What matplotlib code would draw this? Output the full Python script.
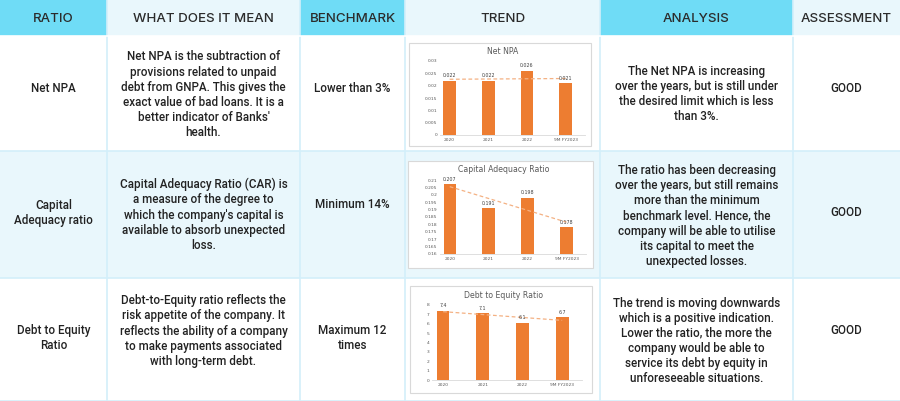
import numpy as np
import matplotlib
matplotlib.use("Agg")
from matplotlib import pyplot as plt
from matplotlib.patches import Rectangle

# table content
headers = ["RATIO", "WHAT DOES IT MEAN", "BENCHMARK", "TREND", "ANALYSIS", "ASSESSMENT"]
ratios = ["Net NPA", "Capital\nAdequacy ratio", "Debt to Equity\nRatio"]
meanings = [
    "Net NPA is the subtraction of\nprovisions related to unpaid\ndebt from GNPA. This gives the\n"
    "exact value of bad loans. It is a\nbetter indicator of Banks'\nhealth.",
    "Capital Adequacy Ratio (CAR) is\na measure of the degree to\nwhich the company's capital is\n"
    "available to absorb unexpected\nloss.",
    "Debt-to-Equity ratio reflects the\nrisk appetite of the company. It\nreflects the ability of a company\n"
    "to make payments associated\nwith long-term debt.",
]
benchmarks = ["Lower than 3%", "Minimum 14%", "Maximum 12\ntimes"]
analyses = [
    "The Net NPA is increasing\nover the years, but is still under\nthe desired limit which is less\nthan 3%.",
    "The ratio has been decreasing\nover the years, but still remains\nmore than the minimum\n"
    "benchmark level. Hence, the\ncompany will be able to utilise\nits capital to meet the\nunexpected losses.",
    "The trend is moving downwards\nwhich is a positive indication.\nLower the ratio, the more the\n"
    "company would be able to\nservice its debt by equity in\nunforeseeable situations.",
]
assessments = ["GOOD", "GOOD", "GOOD"]

# chart data
years = ["2020", "2021", "2022", "9M FY2023"]
net_npa = [0.022, 0.022, 0.026, 0.021]
car = [0.207, 0.191, 0.198, 0.178]
debt_equity = [7.4, 7.1, 6.1, 6.7]
chart_titles = ["Net NPA", "Capital Adequacy Ratio", "Debt to Equity Ratio"]

W, H = 900, 401
col_x = [0, 107, 300, 405, 600, 793, 900]
row_y = [0, 36, 151, 278, 401]
CYAN = "#6fdcf6"
LIGHT = "#e9f7fc"
LINE = "#d3effa"
ORANGE = "#ed7d31"

fig = plt.figure(figsize=(W / 100, H / 100), dpi=100)
bg = fig.add_axes([0, 0, 1, 1])
bg.set_xlim(0, W)
bg.set_ylim(H, 0)
bg.axis("off")

# header
for i, h in enumerate(headers):
    c = CYAN if i % 2 == 0 else LIGHT
    bg.add_patch(Rectangle((col_x[i], 0), col_x[i + 1] - col_x[i], 36, fc=c, ec="none"))
    bg.text((col_x[i] + col_x[i + 1]) / 2, 18.5, h, ha="center", va="center",
            fontsize=9.6, family="Inter", weight=500, color="#2b2b2b")

# body rows
for r in range(3):
    c = LIGHT if r == 1 else "white"
    bg.add_patch(Rectangle((0, row_y[r + 1]), W, row_y[r + 2] - row_y[r + 1], fc=c, ec="none"))

for x in col_x[1:-1]:
    bg.plot([x, x], [0, H], color=LINE, lw=1.2)
for y in row_y[2:-1]:
    bg.plot([0, W], [y, y], color=LINE, lw=1.2)
bg.plot([0, W], [H - 0.5, H - 0.5], color=LINE, lw=1.2)
bg.plot([0, W], [36, 36], color="white", lw=1.2)

txt = dict(ha="center", va="center", fontsize=8.4, family="Roboto", weight=500,
           color="#222222", linespacing=1.22)
ratio_y = [88, 213, 338]
mean_y = [95, 215, 331]
bench_y = [88, 205, 338]
anal_y = [94, 216, 341]
good_y = [88, 213, 331]
for r in range(3):
    bg.text(53.5, ratio_y[r], ratios[r], **txt)
    bg.text(203.5, mean_y[r], meanings[r], **txt)
    bg.text(352.5, bench_y[r], benchmarks[r], **txt)
    bg.text(696.5, anal_y[r], analyses[r], **txt)
    bg.text(846.5, good_y[r], assessments[r], **txt)


def px_axes(left, top, right, bottom):
    return fig.add_axes([left / W, 1 - bottom / H, (right - left) / W, (bottom - top) / H])


boxes = [(409, 43, 591, 146), (408, 161, 593, 268), (410, 286, 592, 393)]
plots = [(440, 61, 585, 135), (440, 180, 586, 254), (432, 305, 582, 380)]
title_y = [51, 170, 295]
series = [net_npa, car, debt_equity]
ylims = [(0, 0.03), (0.16, 0.21), (0, 8)]
ysteps = [0.005, 0.005, 1]
xlefts = [-0.25, -0.25, -0.28]
label_fmt = ["{:.3f}", "{:.3f}", "{:.1f}"]

for k in range(3):
    bx = boxes[k]
    bg.add_patch(Rectangle((bx[0], bx[1]), bx[2] - bx[0], bx[3] - bx[1],
                           fc="white", ec="#d9d9d9", lw=0.8))
    bg.text((bx[0] + bx[2]) / 2 + 3, title_y[k], chart_titles[k], ha="center", va="center",
            fontsize=5.6, color="#595959", family="DejaVu Sans")
    ax = px_axes(*plots[k])
    vals = series[k]
    x = np.arange(len(years))
    lo, hi = ylims[k]
    ax.bar(x, np.array(vals) - lo, bottom=lo, width=0.32, color=ORANGE, zorder=2)
    # linear trendline as in the excel chart
    slope, icpt = np.polyfit(x, vals, 1)
    ax.plot(x, slope * x + icpt, ls=(0, (3, 2)), color="#f4b183", lw=0.9, zorder=3)
    for xi, v in zip(x, vals):
        ax.text(xi, v + (hi - lo) * 0.035, label_fmt[k].format(v), ha="center", va="bottom",
                fontsize=3.4, color="#404040")
    ax.set_xlim(xlefts[k], 3.5)
    ax.set_ylim(lo, hi)
    ticks = np.arange(lo, hi + ysteps[k] / 2, ysteps[k])
    ax.set_yticks(ticks)
    ax.set_yticklabels(["{:g}".format(round(t, 3)) for t in ticks])
    ax.set_xticks(x)
    ax.set_xticklabels(years)
    ax.tick_params(axis="both", length=0, labelsize=3.2, colors="#595959", pad=2)
    for s in ["top", "right", "left"]:
        ax.spines[s].set_visible(False)
    ax.spines["bottom"].set_color("#d9d9d9")
    ax.spines["bottom"].set_linewidth(0.6)
    ax.patch.set_alpha(0)

fig.savefig("out.png", dpi=100)
